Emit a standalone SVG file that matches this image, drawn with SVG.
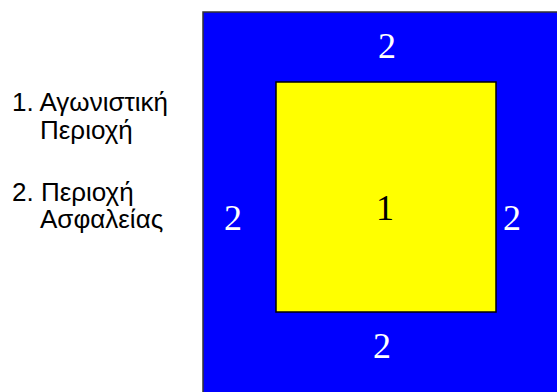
<svg xmlns="http://www.w3.org/2000/svg" width="557" height="392" viewBox="0 0 557 392">
<style>
.lbl{font-family:"Liberation Sans",Arial,sans-serif;font-size:26px;fill:#000}
.num{font-family:"Liberation Serif","Times New Roman",serif;font-size:36px;text-anchor:middle}
.w{fill:#fff}
.k{fill:#000}
</style>
<rect width="557" height="392" fill="#fff"/>
<g id="legend">
<text class="lbl" x="12" y="111">1. Αγωνιστική</text>
<text class="lbl" x="40" y="139">Περιοχή</text>
<text class="lbl" x="12" y="201">2. Περιοχή</text>
<text class="lbl" x="40" y="228">Ασφαλείας</text>
</g>
<g id="safety-area">
<rect x="203" y="12" width="360" height="390" fill="#0000ff" stroke="#333" stroke-width="1.5"/>
<text class="num w" x="387" y="58">2</text>
<text class="num w" x="233" y="230">2</text>
<text class="num w" x="512" y="230">2</text>
<text class="num w" x="382" y="358">2</text>
</g>
<g id="competition-area">
<rect x="276" y="82" width="220" height="230" fill="#ffff00" stroke="#000" stroke-width="1.5"/>
<text class="num k" x="385" y="220">1</text>
</g>
<g id="connectors"/>
</svg>
